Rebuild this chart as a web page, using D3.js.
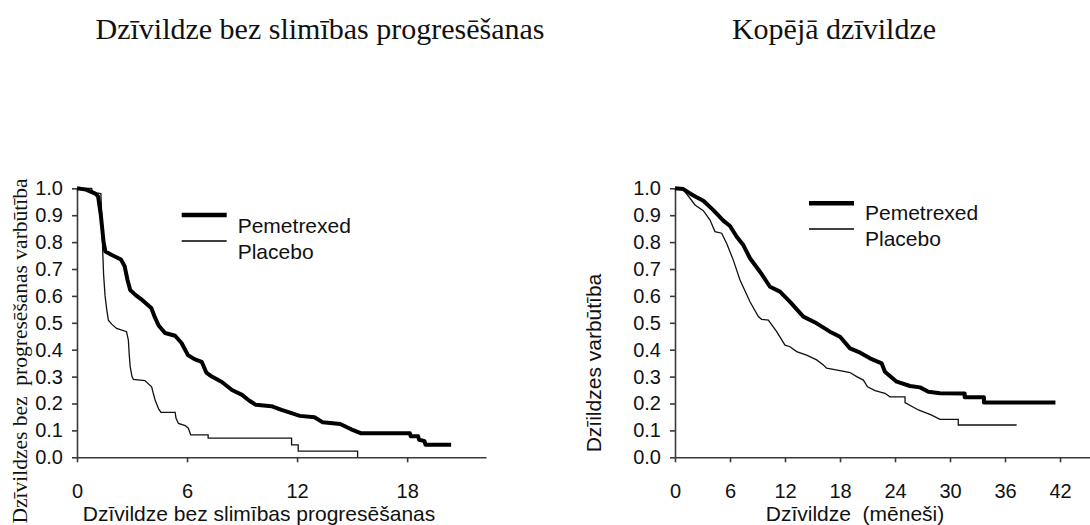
<!DOCTYPE html>
<html>
<head>
<meta charset="utf-8">
<script src="https://cdn.jsdelivr.net/npm/d3@7"></script>
<style>
  body { margin: 0; background: #fff; }
  svg text { fill: #111; }
</style>
</head>
<body>
<svg id="chart" width="1090" height="525"></svg>
<script>
// Dzīvildze bez slimības progresēšanas: [mēneši, varbūtība]
var pfsPemetrexed = [[0,1],[0.5,0.995],[1.0,0.98],[1.15,0.97],[1.3,0.9],[1.45,0.8],[1.55,0.765],[1.9,0.752],[2.4,0.735],[2.6,0.71],[2.75,0.66],[2.9,0.622],[3.2,0.603],[3.55,0.585],[4.05,0.555],[4.25,0.52],[4.45,0.49],[4.8,0.462],[5.35,0.452],[5.7,0.425],[6.05,0.38],[6.4,0.365],[6.8,0.355],[7.05,0.315],[7.35,0.3],[7.9,0.28],[8.45,0.25],[9.0,0.232],[9.4,0.21],[9.75,0.195],[10.6,0.19],[11.15,0.176],[11.7,0.164],[12.15,0.154],[12.95,0.149],[13.4,0.13],[14.35,0.124],[14.95,0.104],[15.5,0.089],[18.15,0.089],[18.2,0.078],[18.6,0.078],[18.65,0.065],[18.95,0.06],[19.0,0.047],[20.4,0.047]];
var pfsPlacebo = [[0,1],[0.8,1.0],[0.85,0.985],[1.3,0.98],[1.35,0.9],[1.4,0.77],[1.45,0.68],[1.53,0.6],[1.62,0.55],[1.71,0.51],[1.89,0.495],[2.16,0.479],[2.7,0.467],[2.8,0.436],[2.85,0.38],[2.9,0.337],[3.0,0.3],[3.07,0.29],[3.7,0.285],[4.07,0.262],[4.15,0.24],[4.26,0.213],[4.45,0.18],[4.58,0.167],[5.35,0.167],[5.4,0.145],[5.53,0.126],[5.9,0.118],[6.07,0.108],[6.2,0.083],[7.15,0.083],[7.15,0.071],[11.7,0.071],[11.7,0.046],[12.06,0.046],[12.06,0.023],[15.3,0.023],[15.3,0]];
// Kopējā dzīvildze
var osPemetrexed = [[0,1],[0.9,0.997],[1.64,0.981],[2.36,0.967],[3.09,0.954],[4.18,0.919],[5.27,0.88],[6.0,0.86],[6.73,0.82],[7.45,0.789],[8.18,0.74],[9.27,0.69],[10.36,0.634],[11.45,0.616],[12.55,0.578],[14.0,0.523],[15.45,0.498],[16.9,0.467],[18.0,0.448],[19.09,0.405],[20.2,0.389],[21.27,0.368],[22.55,0.349],[22.9,0.318],[24.18,0.281],[25.64,0.265],[26.73,0.26],[27.64,0.244],[28.9,0.238],[31.6,0.237],[31.6,0.223],[33.7,0.223],[33.7,0.204],[41.5,0.204]];
var osPlacebo = [[0,1],[0.91,0.994],[1.64,0.963],[2.18,0.938],[3.09,0.917],[3.82,0.882],[4.36,0.839],[5.09,0.833],[5.64,0.795],[6.36,0.733],[7.09,0.659],[8.18,0.578],[9.09,0.523],[9.45,0.513],[10.18,0.51],[11.09,0.467],[12.0,0.417],[12.55,0.411],[13.27,0.393],[14.36,0.38],[15.45,0.362],[16.18,0.343],[16.55,0.331],[18.0,0.322],[19.09,0.315],[19.82,0.3],[20.55,0.287],[21.0,0.262],[21.82,0.248],[22.9,0.238],[23.45,0.225],[25.09,0.225],[25.09,0.203],[26.55,0.176],[28.0,0.157],[28.9,0.141],[30.9,0.141],[30.9,0.12],[37.27,0.12]];

var yTicks = [0,0.1,0.2,0.3,0.4,0.5,0.6,0.7,0.8,0.9,1.0];
var pfsTicks = [0,6,12,18];
var osTicks = [0,6,12,18,24,30,36,42];
var seriesNames = ["Pemetrexed","Placebo"];

var SANS = "'Liberation Sans', Arial, sans-serif";
var SERIF = "'Liberation Serif', 'Times New Roman', serif";
var svg = d3.select("#chart");

var drawPanel = function(p){
	var x = d3.scaleLinear().domain([0,p.xMax]).range([p.left,p.right]);
	var y = d3.scaleLinear().domain([0,1]).range([457.3,188.3]);
	//y ass
	var gy = svg.append("g")
		.attr("transform","translate("+p.left+",0)")
		.call(d3.axisLeft(y).tickValues(yTicks).tickFormat(d3.format(".1f")).tickSize(5).tickSizeOuter(0).tickPadding(9));
	gy.selectAll("text").attr("font-size",20).style("font-family",SANS).attr("fill","#111");
	//x ass
	var gx = svg.append("g")
		.attr("transform","translate(0,457.3)")
		.call(d3.axisBottom(x).tickValues(p.xTicks).tickSize(5).tickSizeOuter(0).tickPadding(22));
	gx.selectAll("text").attr("font-size",20).style("font-family",SANS).attr("fill","#111");
	svg.selectAll(".domain, .tick line").attr("stroke","#3a3a3a").attr("stroke-width",1.6);

	var line = d3.line()
		.x(function(d){ return x(d[0]); })
		.y(function(d){ return y(d[1]); });
	svg.append("path").datum(p.placebo)
		.attr("fill","none").attr("stroke","#111").attr("stroke-width",1.3)
		.attr("d",line);
	svg.append("path").datum(p.pem)
		.attr("fill","none").attr("stroke","#000").attr("stroke-width",4)
		.attr("stroke-linejoin","round")
		.attr("d",line);

	//legend
	var lg = svg.append("g");
	[0,1].forEach(function(i){
		var ly = p.legY + i*p.legGap;
		lg.append("line")
			.attr("x1",p.legX).attr("x2",p.legX+45)
			.attr("y1",ly).attr("y2",ly)
			.attr("stroke","#000").attr("stroke-width",i==0?4.5:1.3);
		lg.append("text")
			.attr("x",p.legX+56).attr("y",ly+p.legTextDy)
			.attr("font-size",21).style("font-family",SANS)
			.text(seriesNames[i]);
	});

	//virsraksts
	svg.append("text")
		.attr("x",p.titleX).attr("y",39)
		.attr("text-anchor","middle").attr("font-size",30)
		.style("font-family",SERIF)
		.text(p.title);
	svg.append("text")
		.attr("x",p.xTitleX).attr("y",521)
		.attr("text-anchor","middle").attr("font-size",21)
		.style("font-family",SANS).style("white-space","pre")
		.text(p.xTitle);
	svg.append("text")
		.attr("transform","translate("+p.yTitleX+","+p.yTitleY+") rotate(-90)")
		.attr("text-anchor","middle").attr("font-size",p.yTitleSerif?21.5:21)
		.style("font-family",p.yTitleSerif?SERIF:SANS).style("white-space","pre")
		.text(p.yTitle);
};

drawPanel({
	left:77, right:486, xMax:22.3, xTicks:pfsTicks,
	pem:pfsPemetrexed, placebo:pfsPlacebo,
	legX:181.7, legY:215, legGap:26, legTextDy:18,
	title:"Dzīvildze bez slimības progresēšanas", titleX:320,
	xTitle:"Dzīvildze bez slimības progresēšanas", xTitleX:259,
	yTitle:"Dzīvildzes bez  progresēšanas varbūtība", yTitleX:27, yTitleY:351, yTitleSerif:true
});
drawPanel({
	left:675, right:1090, xMax:45.27, xTicks:osTicks,
	pem:osPemetrexed, placebo:osPlacebo,
	legX:809, legY:203.3, legGap:25.7, legTextDy:17,
	title:"Kopējā dzīvildze", titleX:834,
	xTitle:"Dzīvildze  (mēneši)", xTitleX:855,
	yTitle:"Dzīildzes varbūtība", yTitleX:601, yTitleY:363, yTitleSerif:false
});
</script>
</body>
</html>
